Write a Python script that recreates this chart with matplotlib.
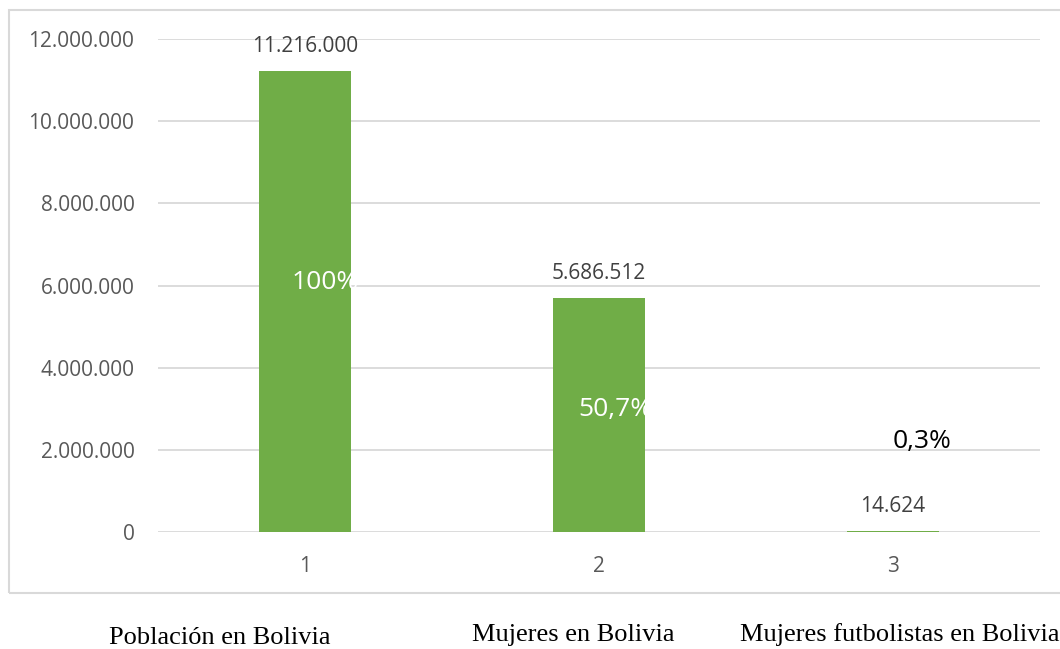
import matplotlib
matplotlib.use('Agg')
import matplotlib.pyplot as plt
from matplotlib.patches import Rectangle

# datos
categorias = ['1', '2', '3']
valores = [11216000, 5686512, 14624]
etiquetas_valor = ['11.216.000', '5.686.512', '14.624']
porcentajes = ['100%', '50,7%', '0,3%']
nombres = ['Población en Bolivia', 'Mujeres en Bolivia', 'Mujeres futbolistas en Bolivia']
yticks = [0, 2000000, 4000000, 6000000, 8000000, 10000000, 12000000]
ytick_labels = ['0', '2.000.000', '4.000.000', '6.000.000', '8.000.000', '10.000.000', '12.000.000']

W, H = 1060, 649
fig = plt.figure(figsize=(W / 100, H / 100), dpi=100)
ax = fig.add_axes([158 / W, 1 - 532 / H, (1040 - 158) / W, (532 - 39) / H])

x = list(range(len(categorias)))
bars = ax.bar(x, valores, width=0.313, color='#70ad47', zorder=2)

ax.set_xlim(-0.5, 2.5)
ax.set_ylim(0, 12000000)
ax.set_yticks(yticks)
ax.set_yticklabels(ytick_labels)
ax.set_xticks(x)
ax.set_xticklabels(categorias)
ax.grid(axis='y', color='#d9d9d9', linewidth=1.3, zorder=0)
for s in ax.spines.values():
    s.set_visible(False)
ax.tick_params(length=0, labelsize=15, colors='#595959', labelfontfamily='Open Sans')
ax.tick_params(axis='y', pad=17)
ax.tick_params(axis='x', pad=17)

# etiquetas de valor encima de las barras
for b, txt in zip(bars, etiquetas_valor):
    ax.annotate(txt, (b.get_x() + b.get_width() / 2, b.get_height()),
                xytext=(0, 18), textcoords='offset points', ha='center', va='center',
                fontsize=15, color='#404040', family='Open Sans')

# porcentajes (posición aproximada como en el original)
pos_pct = [(0.068, 6080000), (1.054, 2970000), (2.099, 2215000)]
col_pct = ['white', 'white', 'black']
for (px, py), txt, c in zip(pos_pct, porcentajes, col_pct):
    ax.text(px, py, txt, ha='center', va='center', fontsize=19, color=c,
            family='Open Sans', zorder=3)

# marco del gráfico
fig.patches.append(Rectangle((9 / W, 1 - 593 / H), 1.2, (593 - 10) / H,
                             transform=fig.transFigure, fill=False,
                             edgecolor='#d9d9d9', linewidth=1.5))

# nombres de categorías debajo
fig.text(220 / W, 1 - 638 / H, nombres[0], ha='center', va='center',
         fontsize=19, family='Liberation Serif')
fig.text(573 / W, 1 - 635 / H, nombres[1], ha='center', va='center',
         fontsize=19, family='Liberation Serif')
fig.text(740 / W, 1 - 635 / H, nombres[2], ha='left', va='center',
         fontsize=19, family='Liberation Serif')

fig.savefig('out.png', dpi=100)
